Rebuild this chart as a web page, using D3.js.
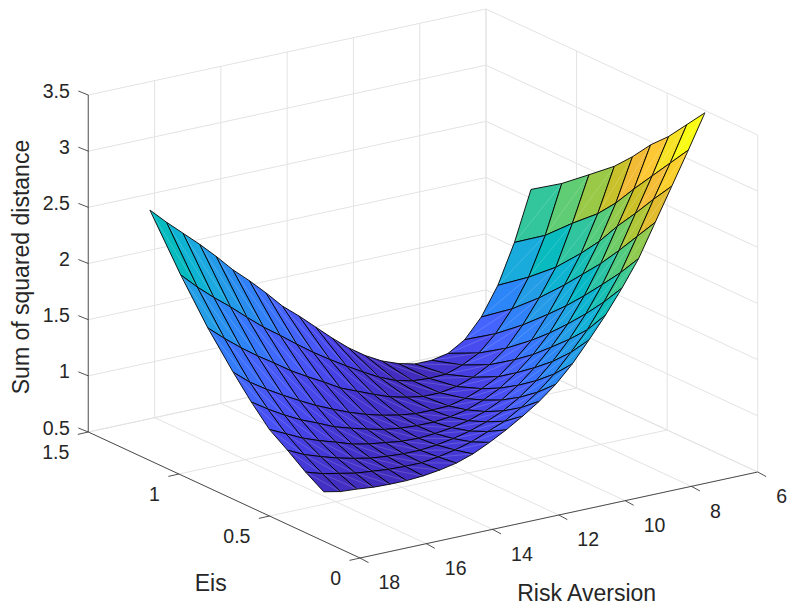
<!DOCTYPE html>
<html>
<head>
<meta charset="utf-8">
<style>
    body { margin: 0; background: #fff; }
    text { font-family: "Liberation Sans", Arial, sans-serif; fill: #262626; }
</style>
<script src="https://d3js.org/d3.v7.min.js"></script>
</head>
<body>
<div id="viz-container"></div>
<script>
// surface grid
let riskAversion = [6.5, 7, 7.5, 8, 8.5, 9, 9.5, 10, 10.5, 11, 11.5, 12, 12.5, 13, 13.5, 14, 14.5, 15, 15.5, 16, 16.5, 17, 17.5, 18];
let eis = [0.2, 0.3, 0.4, 0.5, 0.6, 0.7, 0.84, 0.99, 1.16];

// one row per risk aversion value, one column per eis value
let distance = [
    [3.58, 3.40, 3.22, 3.07, 2.89, 2.73, 2.55, 2.36, 2.18],
    [3.28, 3.09, 2.90, 2.71, 2.51, 2.34, 2.15, 1.93, 1.74],
    [2.99, 2.80, 2.60, 2.41, 2.20, 2.02, 1.79, 1.59, 1.39],
    [2.70, 2.50, 2.30, 2.11, 1.94, 1.77, 1.55, 1.34, 1.14],
    [2.41, 2.21, 2.03, 1.855, 1.69, 1.54, 1.34, 1.15, 0.97],
    [2.18, 1.98, 1.80, 1.635, 1.48, 1.34, 1.165, 1.01, 0.88],
    [1.97, 1.765, 1.605, 1.46, 1.32, 1.20, 1.05, 0.935, 0.85],
    [1.78, 1.595, 1.44, 1.31, 1.19, 1.08, 0.97, 0.885, 0.85],
    [1.60, 1.435, 1.30, 1.185, 1.085, 1.005, 0.92, 0.88, 0.885],
    [1.45, 1.305, 1.185, 1.085, 1.01, 0.95, 0.895, 0.89, 0.94],
    [1.33, 1.20, 1.095, 1.015, 0.955, 0.915, 0.895, 0.925, 1.02],
    [1.23, 1.11, 1.03, 0.965, 0.925, 0.91, 0.92, 0.985, 1.12],
    [1.14, 1.05, 0.98, 0.935, 0.91, 0.91, 0.955, 1.065, 1.24],
    [1.06, 0.99, 0.945, 0.915, 0.91, 0.93, 1.01, 1.15, 1.37],
    [0.99, 0.95, 0.92, 0.905, 0.92, 0.96, 1.07, 1.24, 1.50],
    [0.94, 0.92, 0.905, 0.91, 0.94, 1.00, 1.13, 1.335, 1.62],
    [0.91, 0.90, 0.905, 0.93, 0.975, 1.05, 1.215, 1.44, 1.77],
    [0.89, 0.90, 0.915, 0.95, 1.015, 1.11, 1.295, 1.55, 1.91],
    [0.88, 0.905, 0.93, 0.98, 1.06, 1.175, 1.38, 1.655, 2.04],
    [0.88, 0.92, 0.96, 1.03, 1.125, 1.25, 1.48, 1.775, 2.19],
    [0.885, 0.935, 0.995, 1.075, 1.185, 1.33, 1.575, 1.90, 2.33],
    [0.90, 0.965, 1.04, 1.13, 1.26, 1.415, 1.68, 2.015, 2.46],
    [0.91, 0.995, 1.09, 1.20, 1.345, 1.51, 1.795, 2.14, 2.59],
    [0.94, 1.04, 1.16, 1.27, 1.44, 1.63, 1.92, 2.28, 2.73]
];

let raTicks = [6, 8, 10, 12, 14, 16, 18];
let eisTicks = [0, 0.5, 1, 1.5];
let zTicks = [0.5, 1, 1.5, 2, 2.5, 3, 3.5];

let parula = ['#3e26a8', '#4332cb', '#4741e5', '#4852f4', '#4563fd', '#3875fe', '#2d87f7', '#2796eb',
    '#20a5e3', '#12b1d6', '#02bac3', '#24c1ae', '#37c897', '#57cc7a', '#81cc59', '#abc739',
    '#d1bf27', '#efba36', '#fec338', '#fad527', '#f5e924', '#f9fb15'];

let viz = d3.select("#viz-container")
    .append("svg")
    .attr('id', 'viz')
    .attr('width', 787)
    .attr('height', 606)
    .style('display', 'block')

// the box is an oblique projection, each data axis moves the point in x and y
let raX = d3.scaleLinear().domain([18, 6]).range([360, 757.7]);
let raY = d3.scaleLinear().domain([18, 6]).range([558, 472]);
let eisX = d3.scaleLinear().domain([0, 1.5]).range([0, -271.7]);
let eisY = d3.scaleLinear().domain([0, 1.5]).range([0, -126]);
let zY = d3.scaleLinear().domain([0.5, 3.5]).range([0, -337]);

let color = d3.scaleSequential(d3.piecewise(d3.interpolateRgb, parula))
    .domain([0.8, 3.58]);

function project(ra, e, z) {
    return [raX(ra) + eisX(e), raY(ra) + eisY(e) + zY(z)];
}

function segment(a, b, stroke, width) {
    let p = project(a[0], a[1], a[2]);
    let q = project(b[0], b[1], b[2]);
    viz.append('line')
        .attr('x1', p[0])
        .attr('y1', p[1])
        .attr('x2', q[0])
        .attr('y2', q[1])
        .attr('stroke', stroke)
        .attr('stroke-width', width);
}

// grid on the floor and the two back walls
let gridColor = '#e3e3e3';
raTicks.forEach((ra) => {
    segment([ra, 0, 0.5], [ra, 1.5, 0.5], gridColor, 1);
    segment([ra, 1.5, 0.5], [ra, 1.5, 3.5], gridColor, 1);
});
eisTicks.forEach((e) => {
    segment([18, e, 0.5], [6, e, 0.5], gridColor, 1);
    segment([6, e, 0.5], [6, e, 3.5], gridColor, 1);
});
zTicks.forEach((z) => {
    segment([18, 1.5, z], [6, 1.5, z], gridColor, 1);
    segment([6, 1.5, z], [6, 0, z], gridColor, 1);
});

// cells back to front so the near ones cover the far ones
let cells = [];
for (let i = 0; i < riskAversion.length - 1; i++) {
    for (let j = eis.length - 2; j >= 0; j--) {
        cells.push({ i: i, j: j });
    }
}

function corner(i, j) {
    return project(riskAversion[i], eis[j], distance[i][j]);
}

let cell = viz.selectAll('.cell').data(cells).enter()
    .append('g')
    .attr('class', 'cell');

cell.append('polygon')
    .attr('points', (d) => {
        return [corner(d.i, d.j), corner(d.i, d.j + 1), corner(d.i + 1, d.j + 1), corner(d.i + 1, d.j)]
            .map((p) => p.join(',')).join(' ');
    })
    .attr('fill', (d) => {
        return color(distance[d.i][d.j])
    })
    .attr('stroke', '#000')
    .attr('stroke-width', 0.9)
    .attr('stroke-linejoin', 'round');

// faint seam of the two triangles in each cell
cell.append('line')
    .attr('x1', (d) => corner(d.i, d.j)[0])
    .attr('y1', (d) => corner(d.i, d.j)[1])
    .attr('x2', (d) => corner(d.i + 1, d.j + 1)[0])
    .attr('y2', (d) => corner(d.i + 1, d.j + 1)[1])
    .attr('stroke', '#fff')
    .attr('stroke-opacity', 0.28)
    .attr('stroke-width', 0.6);

// axis lines
let axisColor = '#262626';
segment([18, 0, 0.5], [6, 0, 0.5], axisColor, 0.8);
segment([18, 0, 0.5], [18, 1.5, 0.5], axisColor, 0.8);
segment([18, 1.5, 0.5], [18, 1.5, 3.5], '#6e6e6e', 1.2);

function tick(p, dx, dy) {
    viz.append('line')
        .attr('x1', p[0])
        .attr('y1', p[1])
        .attr('x2', p[0] + dx)
        .attr('y2', p[1] + dy)
        .attr('stroke', axisColor)
        .attr('stroke-width', 0.8);
}

function label(x, y, s, anchor, size) {
    return viz.append('text')
        .attr('x', x)
        .attr('y', y)
        .attr('text-anchor', anchor)
        .attr('dominant-baseline', 'central')
        .attr('font-size', size)
        .text(s);
}

let tickSize = 19.5;
let titleSize = 23;

raTicks.forEach((ra) => {
    let p = project(ra, 0, 0.5);
    tick(p, 8.5, 4.6);
    label(p[0] + 18.5, p[1] + 24.3, ra, 'start', tickSize);
});
eisTicks.forEach((e) => {
    let p = project(18, e, 0.5);
    tick(p, -10.5, 2.4);
    label(p[0] - 19, p[1] + 20, e, 'end', tickSize);
});
zTicks.forEach((z) => {
    let p = project(18, 1.5, z);
    tick(p, -10, -4);
    label(p[0] - 18.5, p[1] - 4.5, z, 'end', tickSize);
});

label(586.7, 593, 'Risk Aversion', 'middle', titleSize);
label(210.7, 583, 'Eis', 'middle', titleSize);
label(0, 0, 'Sum of squared distance', 'middle', titleSize)
    .attr('transform', 'translate(21,267) rotate(-90)');
</script>
</body>
</html>
